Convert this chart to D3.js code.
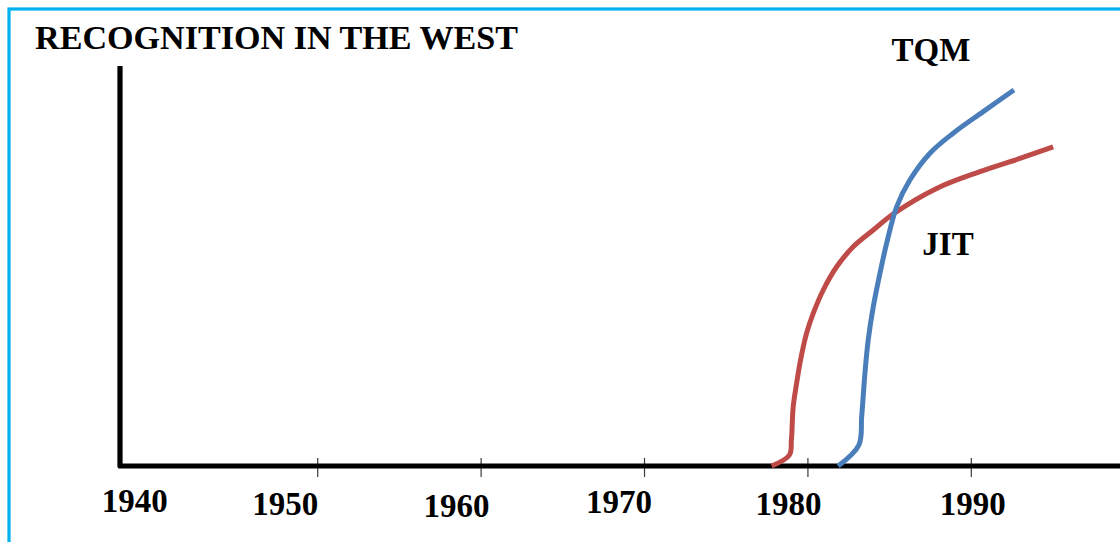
<!DOCTYPE html>
<html>
<head>
<meta charset="utf-8">
<script src="https://cdn.jsdelivr.net/npm/d3@7"></script>
<style>
  html, body { margin: 0; padding: 0; background: #fff; }
  svg { display: block; }
  text { font-family: "Liberation Serif", "Times New Roman", serif; font-weight: bold; fill: #000; }
</style>
</head>
<body>
<svg id="chart" width="1120" height="542"></svg>
<script>
// ---- data ----
const title = "RECOGNITION IN THE WEST";
const tickYears = [1950, 1960, 1970, 1980, 1990];
const yearLabels = [1940, 1950, 1960, 1970, 1980, 1990];

const jitYears  = [1977.81, 1978.90, 1979.02, 1979.13, 1979.34, 1979.58, 1979.95, 1980.36, 1980.97, 1981.79, 1982.80, 1984.03, 1985.25, 1987.91, 1990.56, 1993.00, 1995.04];
const jitLevel  = [0, 2.75, 6.5, 14.8, 20.7, 26.5, 33.2, 38.2, 44.0, 49.8, 54.8, 59.0, 63.0, 69.4, 73.6, 76.9, 79.8];

const tqmYears  = [1981.88, 1983.15, 1983.32, 1983.52, 1983.72, 1984.03, 1984.44, 1984.85, 1985.46, 1986.27, 1987.50, 1988.92, 1990.76, 1992.64];
const tqmLevel  = [0, 5.25, 12.3, 23.2, 31.5, 39.8, 48.2, 55.7, 64.8, 71.5, 78.2, 83.2, 88.6, 94.0];

const seriesNames = ["JIT", "TQM"];

// ---- layout ----
const W = 1120, H = 542;
const plotLeft = 120, plotRight = 1120, plotTop = 66, plotBottom = 466;
// hand-placed year labels: horizontal shift from the tick, and baseline
const labelShift = [[-19, 512], [-32, 515], [-24, 517], [-25, 513], [-19, 515], [2, 515]];

const svg = d3.select("#chart");

const x = d3.scaleLinear().domain([1937.93, 1999.13]).range([plotLeft, plotRight]);
const y = d3.scaleLinear().domain([0, 100]).range([plotBottom, plotTop]);

// frame
svg.append("rect")
  .attr("x", 9).attr("y", 9)
  .attr("width", W + 20).attr("height", H + 20)
  .attr("fill", "#fff")
  .attr("stroke", "#00B0F0").attr("stroke-width", 3.2);

// title
svg.append("text")
  .attr("x", 35).attr("y", 48.5)
  .attr("font-size", 34)
  .attr("textLength", 483).attr("lengthAdjust", "spacingAndGlyphs")
  .text(title);

// tick marks crossing the time axis
const axis = d3.axisBottom(x)
  .tickValues(tickYears)
  .tickSizeInner(19).tickSizeOuter(0)
  .tickFormat("");
const axG = svg.append("g").attr("transform", `translate(0,${plotBottom - 8})`).call(axis);
axG.select(".domain").remove();
axG.selectAll(".tick line").attr("stroke", "#3a3a3a").attr("stroke-width", 1.2);

// axes
svg.append("path")
  .attr("d", `M${plotLeft},${y(100)}V${y(0)}H${plotRight + 5}`)
  .attr("fill", "none")
  .attr("stroke", "#000").attr("stroke-width", 5.2)
  .attr("stroke-linejoin", "round");

// year labels
svg.append("g").selectAll("text")
  .data(yearLabels)
  .join("text")
  .attr("x", (d, i) => x(d) + labelShift[i][0])
  .attr("y", (d, i) => labelShift[i][1])
  .attr("text-anchor", "middle")
  .attr("font-size", 33)
  .text(d => d);

// curves
const line = d3.line()
  .x(d => x(d[0]))
  .y(d => y(d[1]))
  .curve(d3.curveCatmullRom.alpha(0.5));

const series = [
  { name: seriesNames[0], pts: d3.zip(jitYears, jitLevel), color: "#BE4B48" },
  { name: seriesNames[1], pts: d3.zip(tqmYears, tqmLevel), color: "#4A7EBB" }
];

svg.append("g").selectAll("path")
  .data(series)
  .join("path")
  .attr("d", d => line(d.pts))
  .attr("fill", "none")
  .attr("stroke", d => d.color)
  .attr("stroke-width", 5)
  .attr("stroke-linejoin", "round");

// series names
svg.append("text")
  .attr("x", 931).attr("y", 61)
  .attr("text-anchor", "middle")
  .attr("font-size", 33)
  .text(seriesNames[1]);
svg.append("text")
  .attr("x", 948).attr("y", 255)
  .attr("text-anchor", "middle")
  .attr("font-size", 33)
  .text(seriesNames[0]);
</script>
</body>
</html>
